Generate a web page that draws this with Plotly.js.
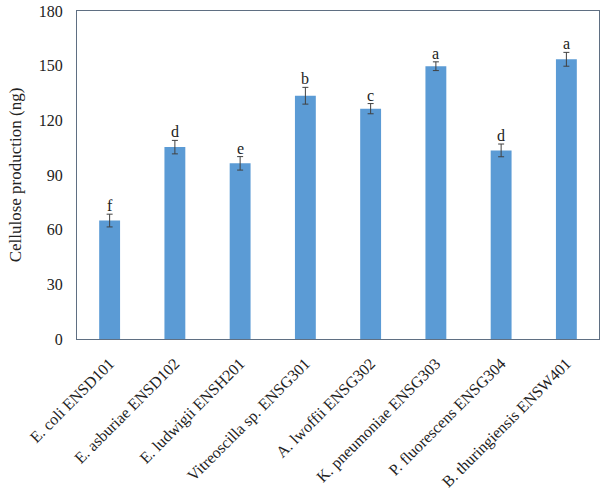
<!DOCTYPE html>
<html>
<head>
<meta charset="utf-8">
<script src="https://cdn.plot.ly/plotly-3.0.1.min.js"></script>
<style>html,body{margin:0;padding:0;background:#fff;}#chart{width:602px;height:489px;}</style>
</head>
<body>
<div id="chart"></div>
<script>
const categories = ["E. coli ENSD101","E. asburiae ENSD102","E. ludwigii ENSH201","Vitreoscilla sp. ENSG301","A. lwoffii ENSG302","K. pneumoniae ENSG303","P. fluorescens ENSG304","B. thuringiensis ENSW401"];
const production = [65, 105.3, 96.4, 133.5, 126.4, 149.7, 103.5, 153.5];
const errors = [3.5, 3.7, 3.7, 4.6, 2.8, 2.4, 3.5, 3.8];
const letters = ["f","d","e","b","c","a","d","a"];
const yTicks = [0, 30, 60, 90, 120, 150, 180];

const fam = "'Liberation Serif', 'Times New Roman', serif";
const txt = "#222";

const trace = {
  type: "bar",
  x: categories,
  y: production,
  marker: {color: "#5b9bd5"},
  error_y: {type: "data", array: errors, visible: true, color: "#404040", thickness: 1, width: 3},
  hoverinfo: "none"
};

const annotations = categories.map((c, i) => ({
  x: c, y: production[i] + errors[i], xref: "x", yref: "y",
  text: letters[i], showarrow: false, yanchor: "bottom", yshift: -2,
  font: {family: fam, size: 16, color: txt}
}));

const layout = {
  width: 602, height: 489,
  margin: {l: 77, r: 3, t: 11, b: 150},
  paper_bgcolor: "#fff", plot_bgcolor: "#fff",
  bargap: 0.68,
  showlegend: false,
  font: {family: fam, size: 16, color: txt},
  xaxis: {
    tickangle: -45, showline: true, linecolor: "#5f6f82", linewidth: 1, mirror: true,
    ticks: "", ticklabelstandoff: 8,
    tickfont: {family: fam, size: 16, color: txt}, fixedrange: true
  },
  yaxis: {
    range: [0, 180], tickvals: yTicks, ticktext: yTicks.map(String),
    showline: true, linecolor: "#5f6f82", linewidth: 1, mirror: true,
    showgrid: false, zeroline: false, ticks: "", ticklabelstandoff: 10,
    tickfont: {family: fam, size: 16, color: txt},
    title: {text: "Cellulose production (ng)", font: {family: fam, size: 17, color: txt}, standoff: 12}
  },
  annotations: annotations
};

Plotly.newPlot("chart", [trace], layout, {displayModeBar: false, staticPlot: true});
</script>
</body>
</html>
